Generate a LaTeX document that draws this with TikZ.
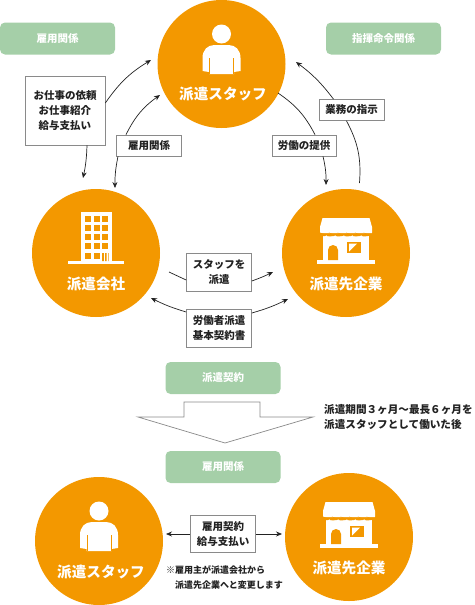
\documentclass[tikz,border=0pt]{standalone}
\usepackage{fontspec}
\setmainfont{Noto Sans CJK JP}[BoldFont={Noto Sans CJK JP Black}]
\usetikzlibrary{arrows.meta}
\definecolor{org}{HTML}{F39800}
\definecolor{grn}{HTML}{A5CFA8}
\definecolor{edge}{HTML}{8A8A8A}
\definecolor{ink}{HTML}{222222}
\tikzset{
  circ/.style={circle,fill=org,minimum size=128pt,inner sep=0pt},
  circtxt/.style={text=white,font=\fontsize{14.6}{16}\selectfont\bfseries,inner sep=0pt},
  tag/.style={rounded corners=5pt,fill=grn,text=white,font=\fontsize{10.5}{12}\selectfont\bfseries,inner sep=0pt,minimum width=115pt,minimum height=32pt},
  lab/.style={draw=edge,line width=0.7pt,fill=white,text=ink,font=\fontsize{10.5}{15}\selectfont\bfseries,inner sep=0pt,align=center},
  plain/.style={text=ink,inner sep=0pt,anchor=west},
  conn/.style={-{Stealth[length=6pt,width=5pt]},draw=ink,line width=0.7pt},
  wire/.style={draw=ink,line width=0.7pt},
}
\newcommand{\person}[2]{%
  \begin{scope}[shift={(#1,#2)}]
    \fill[white] (0,-30) circle (9.5);
    \fill[white] (-19,7) -- (-19,-6) .. controls (-19,-14) and (-14,-19) .. (-7,-19) -- (7,-19) .. controls (14,-19) and (19,-14) .. (19,-6) -- (19,7) -- (12.5,8) -- (12.5,10) -- (-12.5,10) -- (-12.5,8) -- cycle;
    \draw[org,line width=0.6pt] (-12,-6) -- (-12,10) (12,-6) -- (12,10);
  \end{scope}}
\newcommand{\building}[2]{%
  \begin{scope}[shift={(#1,#2)}]
    \fill[white] (-15.5,-41) rectangle (15.5,9);
    \fill[white] (-28,8) rectangle (28,10.5);
    \foreach \y in {-37,-28,-19,-10} \foreach \x in {-11.5,-2.5,6.2}
      \fill[org] (\x,\y) rectangle +(6,6);
    \foreach \x in {-11.5,-2.5} \fill[org] (\x,0) rectangle +(6,6);
    \fill[org] (6.2,0) rectangle +(1.7,8) (9.2,0) rectangle +(1.5,8) (12,0) rectangle +(0.7,8);
  \end{scope}}
\newcommand{\shop}[2]{%
  \begin{scope}[shift={(#1,#2)}]
    \fill[white] (-23,-18) rectangle (23,9);
    \fill[white] (-29,7) rectangle (29,10.5);
    \fill[white] (-23.5,-35) -- (23.5,-35) -- (26,-26) -- (26,-20) -- (-26,-20) -- (-26,-26) -- cycle;
    \fill[org] (-26,-20.5) .. controls +(3,2.6) and +(6,2.6) .. ++(8.67,0)
      .. controls +(3,2.6) and +(6,2.6) .. ++(8.67,0)
      .. controls +(3,2.6) and +(6,2.6) .. ++(8.67,0)
      .. controls +(3,2.6) and +(6,2.6) .. ++(8.67,0)
      .. controls +(3,2.6) and +(6,2.6) .. ++(8.67,0)
      .. controls +(3,2.6) and +(6,2.6) .. ++(8.67,0)
      -- (26,-18.5) .. controls +(-3,2.6) and +(-6,2.6) .. ++(-8.67,0)
      .. controls +(-3,2.6) and +(-6,2.6) .. ++(-8.67,0)
      .. controls +(-3,2.6) and +(-6,2.6) .. ++(-8.67,0)
      .. controls +(-3,2.6) and +(-6,2.6) .. ++(-8.67,0)
      .. controls +(-3,2.6) and +(-6,2.6) .. ++(-8.67,0)
      .. controls +(-3,2.6) and +(-6,2.6) .. ++(-8.67,0) -- cycle;
    \fill[org] (-18,7) -- (-18,-3) arc (180:360:5) -- (-8,7) -- cycle;
    \fill[org] (1.3,-11) rectangle (15,0);
    \fill[white] (3,-1.5) -- (3,-9.5) -- (11,-9.5) -- cycle;
  \end{scope}}
\begin{document}
\begin{tikzpicture}[x=1pt,y=-1pt]
\useasboundingbox (0,0) rectangle (474,605);
\node[circ] (staff) at (221.5,64) {};
\node[circ] (agency) at (96,253) {};
\node[circ] (client) at (346,253) {};
\node[circ] (staffb) at (99,541) {};
\node[circ] (clientb) at (349,537) {};
\person{221.5}{64}
\building{96}{253}
\shop{346}{253}
\person{99}{541}
\shop{349}{537}
\node[circtxt] (t1) at (223,94) {派遣スタッフ};
\node[circtxt] (t2) at (96,284) {派遣会社};
\node[circtxt] (t3) at (346,284) {派遣先企業};
\node[circtxt] (t4) at (101,572) {派遣スタッフ};
\node[circtxt] (t5) at (349,568) {派遣先企業};
\node[tag] (g1) at (57.5,38.5) {雇用関係};
\node[tag] (g2) at (383.5,38.5) {指揮命令関係};
\node[tag] (g3) at (223,378) {派遣契約};
\node[tag] (g4) at (223,467) {雇用関係};
\node[lab,minimum width=80pt,minimum height=69pt] (l1) at (65,110.5) {お仕事の依頼\\お仕事紹介\\給与支払い};
\node[lab,minimum width=65pt,minimum height=21pt] (l2) at (149,145.5) {雇用関係};
\node[lab,minimum width=64pt,minimum height=21pt] (l3) at (304,145.5) {労働の提供};
\node[lab,minimum width=65pt,minimum height=21pt] (l4) at (351.5,110) {業務の指示};
\node[lab,minimum width=65pt,minimum height=37.5pt] (l5) at (219,272.5) {スタッフを\\派遣};
\node[lab,minimum width=65pt,minimum height=37.5pt] (l6) at (219,328.5) {労働者派遣\\基本契約書};
\node[lab,minimum width=65pt,minimum height=37.5pt] (l7) at (223,534) {雇用契約\\給与支払い};
\coordinate (a1) at (151,60); \coordinate (a2) at (83,178);
\coordinate (b1) at (160,95); \coordinate (b2) at (115,188);
\coordinate (c1) at (278,93); \coordinate (c2) at (326,185);
\coordinate (d1) at (359.5,183); \coordinate (d2) at (296,62);
\coordinate (e1) at (169,272); \coordinate (e2) at (273,272);
\coordinate (f1) at (151,298); \coordinate (f2) at (288,299);
\coordinate (h1) at (166,534); \coordinate (h2) at (282,534);
\draw[conn] (l1.east |- 0,103) to[bend left=12] (a1);
\draw[conn] ([xshift=22pt]l1.south) to[bend left=5] (a2);
\draw[conn] ([xshift=-23pt]l2.north) to[bend left=14] (b1);
\draw[conn] ([xshift=-31pt]l2.south) to[bend right=6] (b2);
\draw[wire] (c1) to[bend left=14] ([xshift=11pt]l3.north);
\draw[conn] ([xshift=19pt]l3.south) to[bend left=7] (c2);
\draw[wire] (d1) to[bend right=16] ([xshift=-5pt]l4.south -| 351.5,0);
\draw[conn] ([xshift=-18pt]l4.north) to[bend right=8] (d2);
\draw[wire] (e1) -- (l5.west |- 0,280);
\draw[conn] (l5.east |- 0,281) to[bend right=3] (e2);
\draw[conn] (l6.west |- 0,312) to[bend left=5] (f1);
\draw[conn] (l6.east |- 0,313) to[bend right=5] (f2);
\draw[conn] (l7.west) -- (h1);
\draw[conn] (l7.east) -- (h2);
\draw[draw=edge,line width=0.7pt,fill=white] (184,402) -- (260,402) -- (260,417) -- (313,417) -- (225,443) -- (138,417) -- (184,417) -- cycle;
\node[plain,font=\fontsize{10.6}{12}\selectfont\bfseries] (n1) at (324,409.5) {派遣期間３ヶ月〜最長６ヶ月を};
\node[plain,font=\fontsize{10.6}{12}\selectfont\bfseries] (n2) at (324,424.5) {派遣スタッフとして働いた後};
\node[plain,font=\fontsize{9}{10}\selectfont\bfseries] (n3) at (166,570) {※雇用主が派遣会社から};
\node[plain,font=\fontsize{9}{10}\selectfont\bfseries] (n4) at (175,585) {派遣先企業へと変更します};
\end{tikzpicture}
\end{document}
